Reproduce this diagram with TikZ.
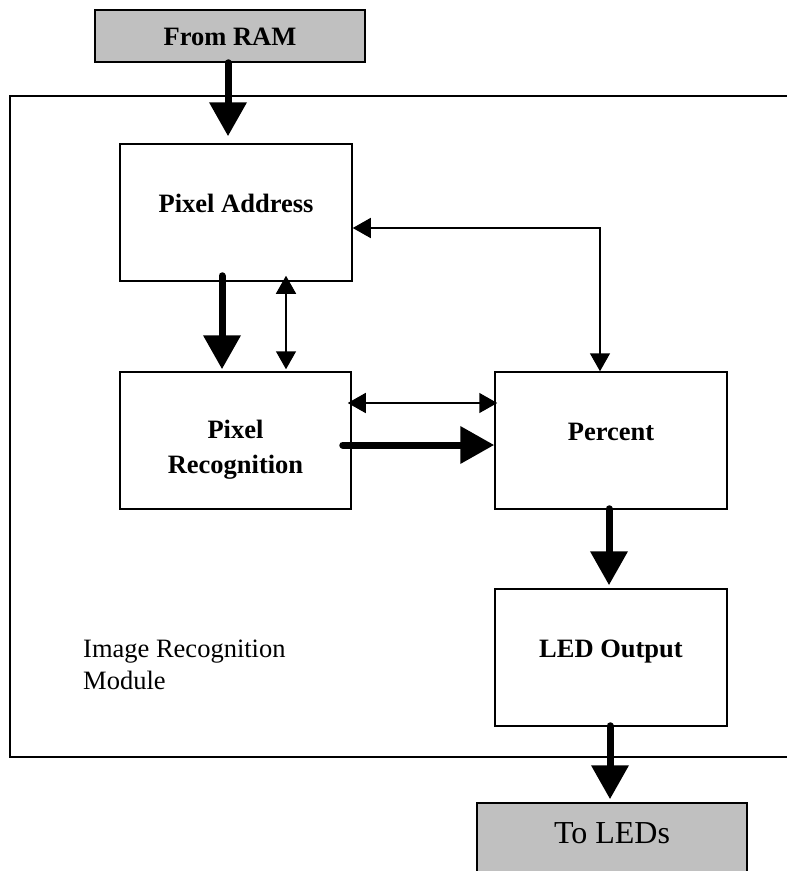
\documentclass[tikz,border=0pt]{standalone}
\usepackage{fontspec}
\setmainfont{Liberation Serif}
\usetikzlibrary{arrows.meta}

\begin{document}
\begin{tikzpicture}[
  x=1pt, y=-1pt,
  blockbox/.style={draw, rectangle, line width=1.5pt, inner sep=0pt, fill=white},
  iobox/.style={blockbox, fill=iogray},
  blocktext/.style={anchor=base, font=\bfseries\fontsize{26.5}{32}\selectfont, inner sep=0pt},
  plaintext/.style={anchor=base west, font=\fontsize{26.5}{32}\selectfont, inner sep=0pt},
  bigflow/.style={line width=7pt, line cap=round, -{Triangle[width=36pt,length=34pt]}},
  ctrlflow/.style={line width=1.5pt, {Triangle[width=20pt,length=18pt]}-{Triangle[width=20pt,length=18pt]}},
]
\definecolor{iogray}{HTML}{C0C0C0}
\useasboundingbox (0,0) rectangle (787,871);
\clip (0,0) rectangle (787,871);

% module frame (its right side runs off the page)
\draw[line width=1.5pt] (800,96) -- (10,96) -- (10,757) -- (800,757);

% blocks
\node[iobox, minimum width=270pt, minimum height=52pt] (ram) at (230,36) {};
\node[blockbox, minimum width=232pt, minimum height=137pt] (pa) at (236,212.5) {};
\node[blockbox, minimum width=231pt, minimum height=137pt] (pr) at (235.5,440.5) {};
\node[blockbox, minimum width=232pt, minimum height=137pt] (pc) at (611,440.5) {};
\node[blockbox, minimum width=232pt, minimum height=137pt] (led) at (611,657.5) {};
\node[iobox, minimum width=270pt, minimum height=77pt] (leds) at (612,841.5) {};

% block labels
\node[blocktext] (ram-t) at (230,45) {From RAM};
\node[blocktext] (pa-t) at (236,212) {Pixel Address};
\node[blocktext] (pr-t1) at (235.5,438) {Pixel};
\node[blocktext] (pr-t2) at (235.5,473) {Recognition};
\node[blocktext] (pc-t) at (611,440) {Percent};
\node[blocktext] (led-t) at (611,657) {LED Output};
\node[anchor=base, font=\fontsize{32}{38}\selectfont, inner sep=0pt] (leds-t) at (612,843) {To LEDs};
\node[plaintext] (mod-t1) at (83,657) {Image Recognition};
\node[plaintext] (mod-t2) at (83,689) {Module};

% data paths
\draw[bigflow] ([xshift=-2pt]ram.south) -- ([xshift=-8pt,yshift=7pt]pa.north);
\draw[bigflow] ([xshift=-14pt,yshift=6pt]pa.south) -- ([xshift=-13.5pt,yshift=2pt]pr.north);
\draw[bigflow] ([xshift=-9pt,yshift=-4.5pt]pr.east) -- ([yshift=-4.5pt]pc.west);
\draw[bigflow] ([xshift=-2pt,yshift=1pt]pc.south) -- ([xshift=-2pt,yshift=3pt]led.north);
\draw[bigflow] ([xshift=-1pt,yshift=1pt]led.south) -- ([xshift=-2pt,yshift=3pt]leds.north);

% control paths
\draw[ctrlflow] ([xshift=50pt,yshift=6pt]pa.south) -- ([xshift=50.5pt,yshift=2pt]pr.north);
\draw[ctrlflow] ([xshift=-4pt,yshift=37.5pt]pr.east) -- ([xshift=3pt,yshift=37.5pt]pc.west);
\draw[ctrlflow] ([yshift=-15.5pt]pa.east) -| ([xshift=-11pt]pc.north);
\end{tikzpicture}
\end{document}
